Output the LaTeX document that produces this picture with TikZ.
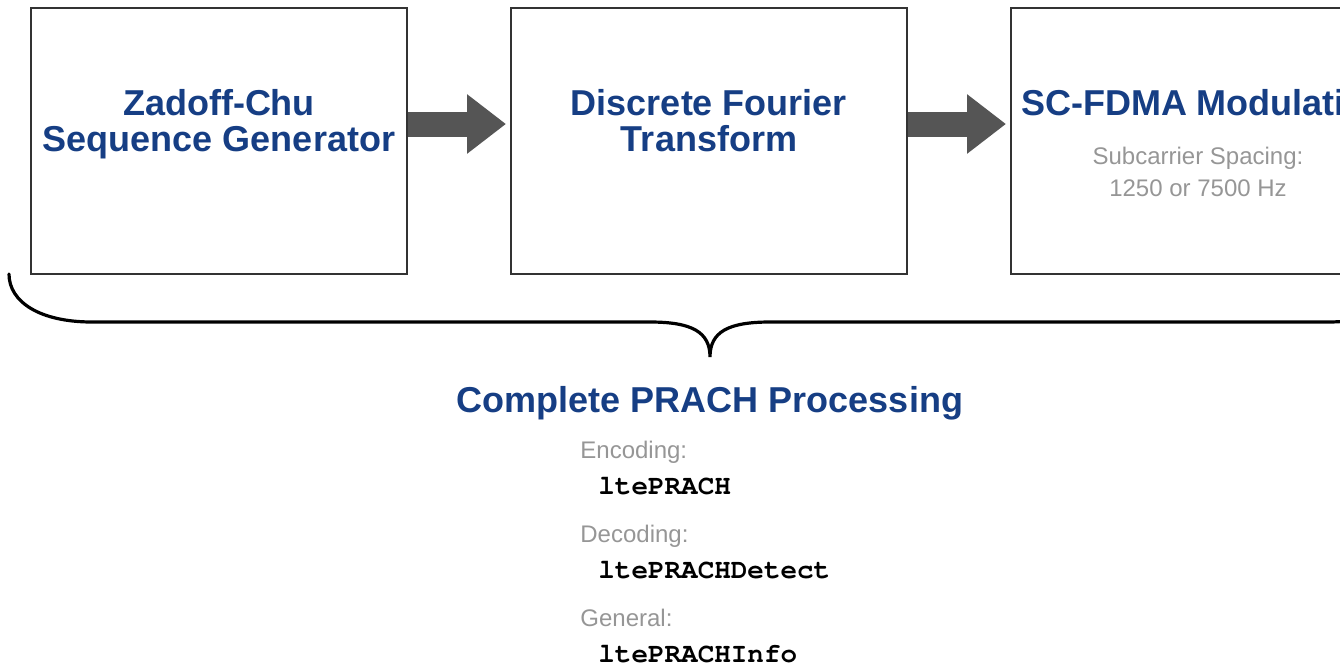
\documentclass[tikz,border=0pt]{standalone}
\usepackage{fontspec}
\setmainfont{Liberation Sans}
\setmonofont{texgyrecursor}[Extension=.otf,UprightFont=*-regular,BoldFont=*-bold]
\usetikzlibrary{arrows.meta,calc}
\definecolor{prachblue}{RGB}{22,62,132}
\definecolor{notegray}{RGB}{150,150,150}
\definecolor{arrowgray}{RGB}{85,85,85}
\definecolor{boxgray}{RGB}{51,51,51}

\begin{document}
\begin{tikzpicture}[x=0.5pt,y=-0.5pt,
    block/.style={draw=boxgray,line width=1pt,minimum height=133pt,inner sep=0pt},
    title/.style={text=prachblue,font=\fontsize{18}{18}\selectfont\bfseries,align=center},
    note/.style={text=notegray,font=\fontsize{12}{16}\selectfont,align=center},
    fgroup/.style={text=notegray,font=\fontsize{12}{14}\selectfont,anchor=base west,inner sep=0pt},
    fname/.style={font=\fontsize{13.8}{14}\selectfont\ttfamily\bfseries,anchor=base west,inner sep=0pt},
    flow/.style={arrowgray,line width=12.5pt,-{Triangle[width=28.5pt,length=19.5pt]},shorten >=2pt}]
  \useasboundingbox (0,0) rectangle (1340,666);
  \clip (0,0) rectangle (1340,666);

  % processing blocks
  \node[block,minimum width=188pt] (zc) at (219,141) {};
  \node[block,minimum width=198pt] (dft) at (709,141) {};
  \node[block,minimum width=196pt] (scfdma) at (1207,141) {};

  \node[title] (zct) at ($(zc)+(0,-17)$) {Zadoff-Chu\\Sequence Generator};
  \node[title] (dftt) at ($(dft)+(0,-20)$) {Discrete Fourier\\Transform};
  \node[title] (scfdmat) at ($(scfdma)+(-2,-38)$) {SC-FDMA Modulation};
  \node[note] (scnote) at ($(scfdma)+(-9,31)$) {Subcarrier Spacing:\\1250 or 7500 Hz};

  \draw[flow] ([yshift=8.5pt]zc.east) -- ([yshift=8.5pt]dft.west);
  \draw[flow] ([yshift=8.5pt]dft.east) -- ([yshift=8.5pt]scfdma.west);

  % brace
  \draw[line width=1.6pt,line cap=round]
    (9,274) .. controls (9,302) and (40,322) .. (92,322) -- (650,322)
    .. controls (692,322) and (710,332) .. (710,357)
    .. controls (710,332) and (728,322) .. (770,322) -- (1328,322)
    .. controls (1380,322) and (1411,302) .. (1411,274);

  \node[title] (proc) at (710,403) {Complete PRACH Processing};

  % function list
  \foreach \grp/\fn [count=\i from 0] in {Encoding/ltePRACH,Decoding/ltePRACHDetect,General/ltePRACHInfo} {
    \node[fgroup] (grp\i) at (580,458+84*\i) {\grp:};
    \node[fname] (fn\i) at (598,494+84*\i) {\fn};
  }
\end{tikzpicture}
\end{document}
